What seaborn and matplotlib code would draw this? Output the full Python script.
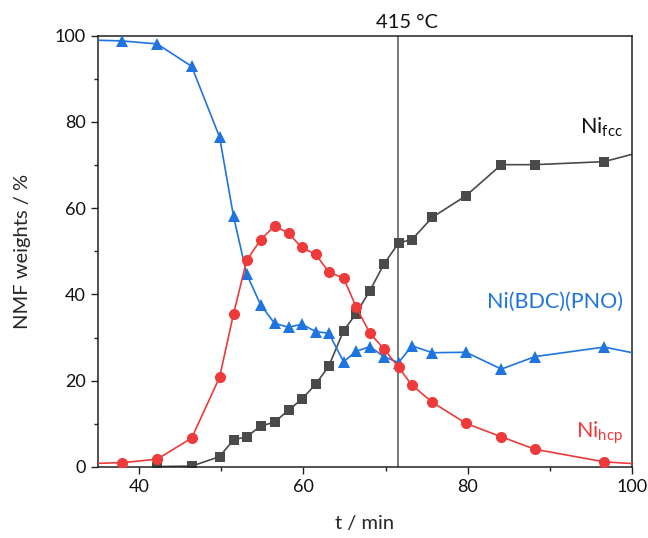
import matplotlib
matplotlib.use("Agg")
import matplotlib.pyplot as plt
import seaborn as sns
import pandas as pd
from matplotlib.ticker import MultipleLocator

sns.set_style("white")
plt.rcParams['font.family'] = ['Lato', 'DejaVu Sans']
plt.rcParams['mathtext.fontset'] = 'custom'
plt.rcParams['mathtext.rm'] = 'Lato'

t_min = [34.0, 37.9, 42.2, 46.4, 49.8, 51.5, 53.1, 54.8, 56.5, 58.2, 59.8, 61.5, 63.1,
         64.9, 66.4, 68.1, 69.8, 71.6, 73.2, 75.7, 79.8, 84.1, 88.2, 96.6, 104.0]

ni_bdc_pno = [99.0, 98.8, 98.1, 92.9, 76.5, 58.1, 44.7, 37.6, 33.3, 32.4, 33.1, 31.4, 31.0,
              24.4, 26.8, 27.9, 25.6, 24.2, 28.1, 26.5, 26.6, 22.7, 25.6, 27.8, 25.0]
ni_hcp = [0.8, 1.0, 1.8, 6.7, 20.8, 35.5, 47.9, 52.7, 55.9, 54.2, 50.9, 49.3, 45.2,
          43.8, 37.2, 31.0, 27.4, 23.1, 19.0, 15.0, 10.1, 7.0, 4.1, 1.2, 0.3]
t_fcc = t_min[2:]
ni_fcc = [0.1, 0.2, 2.4, 6.3, 7.0, 9.5, 10.4, 13.2, 15.7, 19.2, 23.4, 31.6,
          35.5, 40.9, 47.0, 52.0, 52.7, 57.9, 62.9, 70.1, 70.1, 70.8, 74.5]

series_labels = ["Ni$_\\mathregular{fcc}$", "Ni(BDC)(PNO)", "Ni$_\\mathregular{hcp}$"]
marker_temp = 71.5
temp_label = "415 °C"

c_fcc = "#4a4a4a"
c_bdc = "#1f74e0"
c_hcp = "#ee3a3a"

fig = plt.figure(figsize=(6.48, 5.38), dpi=100)
ax = fig.add_axes([0.1512, 0.132, 0.8241, 0.8016])

ax.axvline(marker_temp, color="#555555", lw=1.1, zorder=1)

df_fcc = pd.DataFrame({"t": t_fcc, "w": ni_fcc})
df_bdc = pd.DataFrame({"t": t_min, "w": ni_bdc_pno})
df_hcp = pd.DataFrame({"t": t_min, "w": ni_hcp})

sns.lineplot(data=df_fcc, x="t", y="w", ax=ax, color=c_fcc, marker="s", markersize=7,
             markeredgewidth=0, lw=1.2, sort=False, zorder=2)
sns.lineplot(data=df_bdc, x="t", y="w", ax=ax, color=c_bdc, marker="^", markersize=8.5,
             markeredgewidth=0, lw=1.2, sort=False, zorder=3)
sns.lineplot(data=df_hcp, x="t", y="w", ax=ax, color=c_hcp, marker="o", markersize=8,
             markeredgewidth=0, lw=1.2, sort=False, zorder=4)

ax.set_xlim(35, 100)
ax.set_ylim(0, 100)
ax.xaxis.set_major_locator(MultipleLocator(20))
ax.xaxis.set_minor_locator(MultipleLocator(10))
ax.yaxis.set_major_locator(MultipleLocator(20))
ax.yaxis.set_minor_locator(MultipleLocator(10))
ax.tick_params(which="major", direction="out", length=5, width=1, colors="#222222",
               labelsize=13, bottom=True, left=True, top=False, right=False, pad=4)
ax.tick_params(which="minor", direction="out", length=3, width=1, colors="#222222",
               bottom=True, left=True, top=False, right=False)
for lab in ax.get_xticklabels() + ax.get_yticklabels():
    lab.set_color("#111111")
for s in ax.spines.values():
    s.set_color("#222222")
    s.set_linewidth(1.1)

ax.set_xlabel("t / min", fontsize=14.5, labelpad=14)
ax.set_ylabel("NMF weights / %", fontsize=14.5, labelpad=17)

ax.text(72.6, 101.2, temp_label, ha="center", va="bottom", fontsize=14.5, color="#111111")
ax.text(98.9, 78.7, series_labels[0], ha="right", va="center", fontsize=15.5, color="#111111")
ax.text(98.9, 38.3, series_labels[1], ha="right", va="center", fontsize=15.5, color=c_bdc)
ax.text(98.9, 7.9, series_labels[2], ha="right", va="center", fontsize=15.5, color=c_hcp)

fig.savefig("out.png", dpi=100)
